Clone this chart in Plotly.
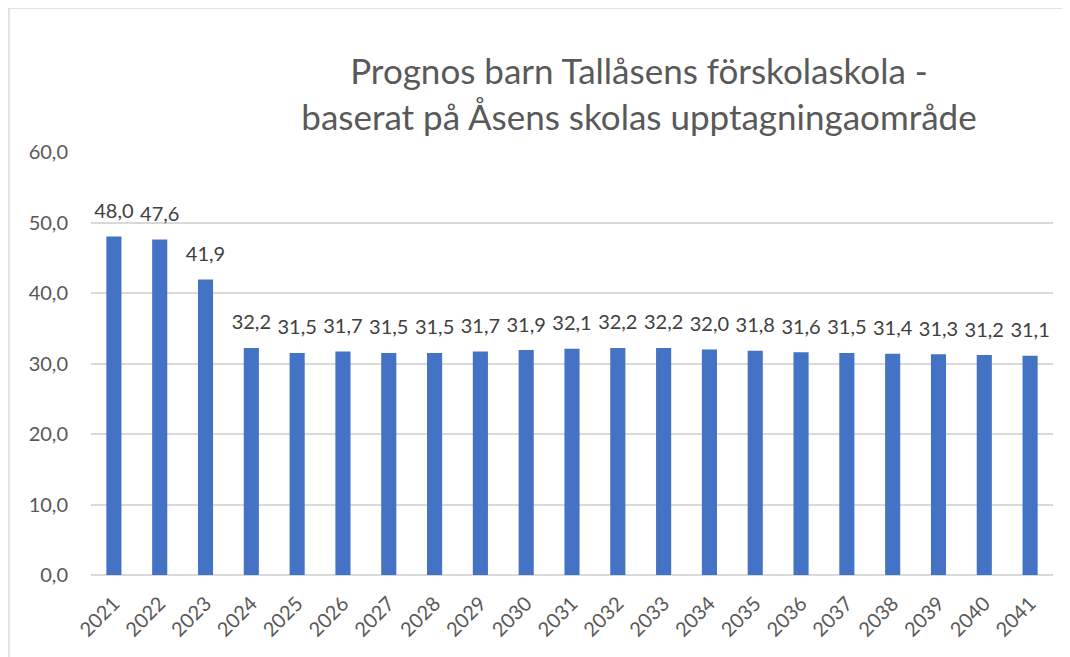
import plotly.graph_objects as go

years = [str(y) for y in range(2021, 2042)]
values = [48.0, 47.6, 41.9, 32.2, 31.5, 31.7, 31.5, 31.5, 31.7, 31.9, 32.1,
          32.2, 32.2, 32.0, 31.8, 31.6, 31.5, 31.4, 31.3, 31.2, 31.1]
title_lines = ["Prognos barn Tallåsens förskolaskola -",
               "baserat på Åsens skolas upptagningaområde"]
y_ticks = [0, 10, 20, 30, 40, 50, 60]

W, H = 1070, 657
OFF = 8  # page body margin
L, R, T, B = 90.6 - OFF, 1053 - OFF, 152 - OFF, 575 - OFF

fig = go.Figure()
fig.add_trace(go.Bar(
    x=years, y=values,
    marker=dict(color="#4472C4", line=dict(width=0)),
    hoverinfo="skip",
))
fig.add_trace(go.Scatter(
    x=years, y=values, mode="markers+text",
    marker=dict(size=20, opacity=0),
    texttemplate="%{y:.1f}", textposition="top center",
    textfont=dict(family="Lato", size=20, color="#404040"),
    cliponaxis=False,
))

pw, ph = R - L, B - T
fig.add_shape(type="rect", xref="paper", yref="paper",
              x0=(0.5 - L) / pw, x1=(1100 - L) / pw,
              y0=(B - 700) / ph, y1=(B - 0) / ph,
              line=dict(color="#d9d9d9", width=1.5), layer="below")

fig.update_layout(
    width=W, height=H,
    margin=dict(l=L, r=W - R, t=T, b=H - B, autoexpand=False),
    paper_bgcolor="white", plot_bgcolor="white",
    separators=", ",
    bargap=0.67,
    showlegend=False,
    font=dict(family="Lato", color="#595959"),
    title=dict(text="<br>".join(title_lines), x=(639 - OFF) / W, xanchor="center",
               y=1 - (84 - OFF) / H, yanchor="middle", yref="container",
               font=dict(family="Lato", size=35, color="#595959")),
    xaxis=dict(type="category", range=[-0.5, len(years) - 0.5],
               tickangle=-45, tickfont=dict(size=20, color="#595959"),
               showline=False, ticks="", showgrid=False,
               ticklabelstandoff=12),
    yaxis=dict(range=[0, 60], tickvals=y_ticks, tickformat=".1f",
               tickfont=dict(size=20, color="#595959"),
               showgrid=True, gridcolor="#d9d9d9", gridwidth=1.5,
               zeroline=True, zerolinecolor="#d9d9d9", zerolinewidth=2,
               ticks="", ticklen=0, ticklabelstandoff=22),
)

fig.write_html("out.html")
